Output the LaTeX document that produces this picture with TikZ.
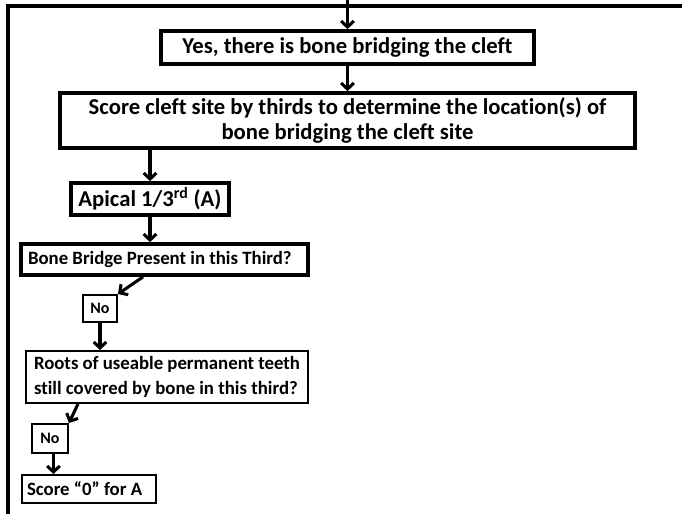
\documentclass[tikz,border=0pt]{standalone}
\usepackage{fontspec}
\setmainfont{Carlito}[Ligatures=NoCommon]
\usetikzlibrary{arrows.meta}
\newcommand{\bigtext}{\fontsize{17}{18.75}\selectfont\bfseries}
\newcommand{\smalltext}{\fontsize{14.1}{18.75}\selectfont\bfseries}
\newcommand{\notext}{\fontsize{12}{14}\selectfont\bfseries}
\begin{document}
\begin{tikzpicture}[x=0.75pt,y=-0.75pt,
  box/.style={draw, line width=2.8pt, inner sep=0pt, align=center, font=\bigtext},
  qbox/.style={draw, line width=2.8pt, inner ysep=0pt, align=flush left, font=\smalltext},
  thinbox/.style={draw, line width=1.4pt, inner ysep=0pt, align=flush left, font=\smalltext},
  flow/.style={line width=2.3pt, -{Straight Barb[length=4.5pt,width=9.5pt]}}]
\useasboundingbox (0,0) rectangle (682,514);
% outer frame
\draw[line width=2.6pt] (8,514) -- (8,6) -- (682,6);

\coordinate (entry) at (347.5,0);
\node[box, minimum width=279.75pt, minimum height=24.75pt] (yes) at (347.5,47.5)
  {Yes, there is bone bridging the cleft};
\node[box, minimum width=431.25pt, minimum height=41.25pt] (score) at (347.5,120.5)
  {Score cleft site by thirds to determine the location(s) of\\bone bridging the cleft site};
\node[box, minimum width=118.5pt, minimum height=24pt] (apical) at (150,199)
  {Apical 1/3\textsuperscript{rd} (A)};
\node[qbox, inner xsep=5.25pt, text width=204.75pt, minimum height=23.25pt] (bone) at (164.5,259.5)
  {Bone Bridge Present in this Third?};
\node[thinbox, inner xsep=0pt, align=center, font=\notext, minimum width=25.5pt, minimum height=20.25pt] (no1) at (100,308.5)
  {No};
\node[thinbox, inner xsep=6pt, text width=199.5pt, minimum height=39pt] (roots) at (167,377)
  {Roots of useable permanent teeth\\still covered by bone in this third?};
\node[thinbox, inner xsep=0pt, align=center, font=\notext, minimum width=27pt, minimum height=21.75pt] (no2) at (50,438.5)
  {No};
\node[thinbox, inner xsep=3.75pt, text width=93pt, minimum height=21pt] (zero) at (89,489)
  {Score \textquotedblleft0\textquotedblright{} for A};

\draw[flow] (entry) -- (yes);
\draw[flow] (yes) -- (score);
\draw[flow] (score.south -| apical.north) -- (apical);
\draw[flow] (apical.south) -- (apical.south |- bone.north);
\draw[flow] ([xshift=-16.1pt]bone.south) -- (no1.north east);
\draw[flow] (no1.south) -- (no1.south |- roots.north);
\draw[flow] ([xshift=-66.75pt]roots.south) -- (no2.north east);
\draw[flow] ([xshift=2.6pt]no2.south) -- ([xshift=2.6pt]no2.south |- zero.north);
\end{tikzpicture}
\end{document}
